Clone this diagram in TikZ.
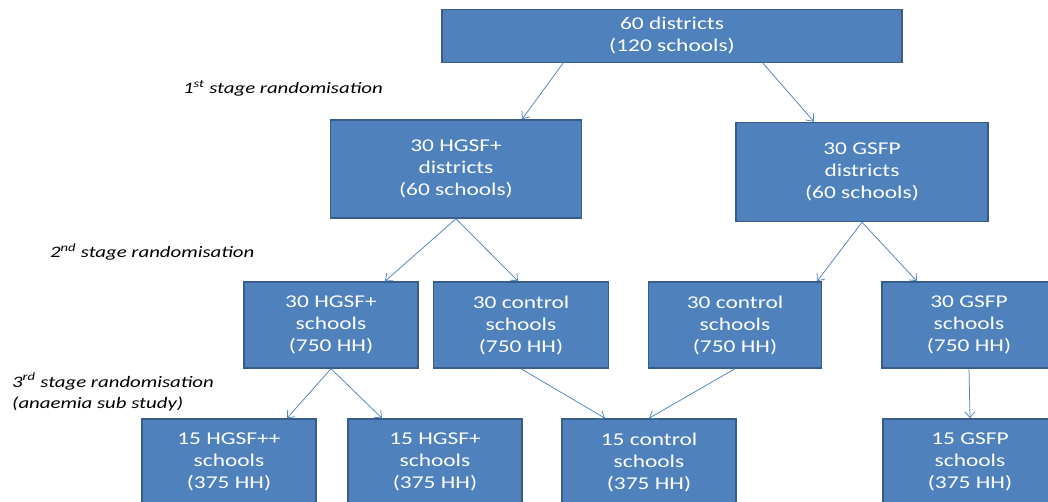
\documentclass[tikz,border=0pt]{standalone}
\usepackage{fontspec}
\setmainfont{Carlito}[FakeStretch=1.3]
\usetikzlibrary{arrows, arrows.meta}
\usetikzlibrary{calc}
\definecolor{boxfill}{HTML}{4F81BD}
\definecolor{boxline}{HTML}{385D8A}

\begin{document}
\begin{tikzpicture}[x=1pt, y=-1pt,
    box/.style={rectangle, draw=boxline, line width=1.5pt, fill=boxfill, text=white, align=center, inner sep=0pt, font=\fontsize{18}{22}\selectfont},
    stage/.style={anchor=west, align=left, inner sep=0pt, font=\fontsize{16}{21}\selectfont\itshape},
    flow/.style={draw=boxfill, line width=0.75pt, -{Straight Barb[length=6pt, width=10pt]}}]
      \useasboundingbox (0,0) rectangle (1048,502);

      \node[box, minimum width=460pt, minimum height=53pt] (all) at (672,36) {60 districts\\(120 schools)};
      \node[box, minimum width=251pt, minimum height=98pt] (hgsfd) at (456,169) {30 HGSF+\\districts\\(60 schools)};
      \node[box, minimum width=252pt, minimum height=99pt] (gsfpd) at (862,172) {30 GSFP\\districts\\(60 schools)};

      \node[box, minimum width=174pt, minimum height=86pt] (hgsfs) at (331,325) {30 HGSF+\\schools\\(750 HH)};
      \node[box, minimum width=175pt, minimum height=86pt] (ctrla) at (521,325) {30 control\\schools\\(750 HH)};
      \node[box, minimum width=173pt, minimum height=86pt] (ctrlb) at (735,325) {30 control\\schools\\(750 HH)};
      \node[box, minimum width=174pt, minimum height=86pt] (gsfps) at (969,325) {30 GSFP\\schools\\(750 HH)};

      \node[box, minimum width=174pt, minimum height=86pt] (hgsfpp) at (229,462) {15 HGSF++\\schools\\(375 HH)};
      \node[box, minimum width=174pt, minimum height=86pt] (hgsfp) at (435,462) {15 HGSF+\\schools\\(375 HH)};
      \node[box, minimum width=174pt, minimum height=86pt] (ctrl) at (649,462) {15 control\\schools\\(375 HH)};
      \node[box, minimum width=174pt, minimum height=86pt] (gsfp) at (970,462) {15 GSFP\\schools\\(375 HH)};

      \node[stage] (st1) at (183,88) {1\textsuperscript{st} stage randomisation};
      \node[stage] (st2) at (50,252) {2\textsuperscript{nd} stage randomisation};
      \node[stage] (st3) at (12,392) {3\textsuperscript{rd} stage randomisation\\(anaemia sub study)};

      \draw[flow] ([xshift=-109pt]all.south) -- ([xshift=66pt]hgsfd.north);
      \draw[flow] ([xshift=91pt]all.south) -- ([xshift=-48pt]gsfpd.north);
      \draw[flow] (hgsfd.south) -- ([xshift=54pt]hgsfs.north);
      \draw[flow] (hgsfd.south) -- ([xshift=-3pt]ctrla.north);
      \draw[flow] (gsfpd.south) -- ([xshift=82pt]ctrlb.north);
      \draw[flow] (gsfpd.south) -- ([xshift=-52pt]gsfps.north);
      \draw[flow] (hgsfs.south) -- ([xshift=58pt]hgsfpp.north);
      \draw[flow] (hgsfs.south) -- ([xshift=-53pt]hgsfp.north);
      \draw[flow] (ctrla.south) -- ([xshift=-44pt]ctrl.north);
      \draw[flow] (ctrlb.south) -- (ctrl.north);
      \draw[flow] (gsfps.south) -- (gsfp.north);
    \end{tikzpicture}
\end{document}
